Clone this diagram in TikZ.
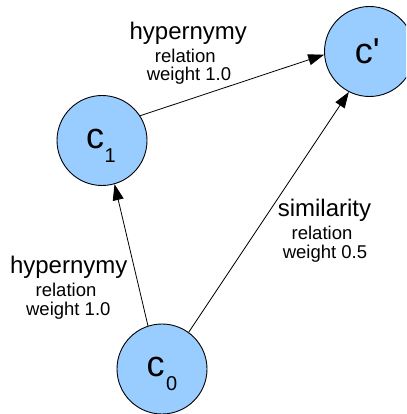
\documentclass[tikz,border=0pt]{standalone}
\usepackage{fontspec}
\setmainfont{Liberation Sans}
\usetikzlibrary{arrows.meta}
\definecolor{conceptblue}{RGB}{153,204,255}
% straight apostrophe glyph, bypassing the TeX quote mapping
\newcommand{\straightprime}{\XeTeXglyph\XeTeXcharglyph"27\relax}
\begin{document}
\begin{tikzpicture}[x=1pt,y=-1pt,
  concept/.style={circle,draw=black,line width=0.9pt,fill=conceptblue,
    minimum size=90pt,inner sep=0pt},
  letter/.style={anchor=base west,inner sep=0pt,font=\fontsize{36}{40}\selectfont},
  index/.style={anchor=base west,inner sep=0pt,font=\fontsize{20}{24}\selectfont},
  relname/.style={anchor=base,inner sep=0pt,font=\fontsize{24}{28}\selectfont},
  reldetail/.style={anchor=base,inner sep=0pt,font=\fontsize{18.5}{22}\selectfont},
  relation/.style={line width=0.8pt,-{Triangle[length=16pt,width=11pt]}}]
  \useasboundingbox (0,0) rectangle (406,414);
  \begin{scope}
    \clip (0,0) rectangle (406,414);
    % concepts
    \node[concept] (c1) at (102,140.5) {};
    \node[concept] (cp) at (369.5,51.5) {};
    \node[concept] (c0) at (162,369) {};
  \end{scope}
  % concept names
  \node[letter] (c1n) at (86,148.3) {c};
  \node[index]  (c1i) at (104.5,162.7) {1};
  \node[letter] (c0n) at (146.3,376) {c};
  \node[index]  (c0i) at (166,390) {0};
  \node[letter] (cpn) at (354.6,63.3) {c\straightprime};
  % relations
  \draw[relation] (c0.108.8) -- (c1.286.8);
  \draw[relation] (c1.33.4) -- (cp.184.4);
  \draw[relation] (c0.54.8) -- (cp.243.6);
  % relation labels
  \node[relname]   (t1) at (188.3,40) {hypernymy};
  \node[reldetail] (t2) at (185.3,62.7) {relation};
  \node[reldetail] (t3) at (189,80.7) {weight 1.0};
  \node[relname]   (l1) at (68.7,273.3) {hypernymy};
  \node[reldetail] (l2) at (66,296.7) {relation};
  \node[reldetail] (l3) at (68.3,315) {weight 1.0};
  \node[relname]   (r1) at (324.5,216) {similarity};
  \node[reldetail] (r2) at (322,239.3) {relation};
  \node[reldetail] (r3) at (325,258.3) {weight 0.5};
\end{tikzpicture}
\end{document}
